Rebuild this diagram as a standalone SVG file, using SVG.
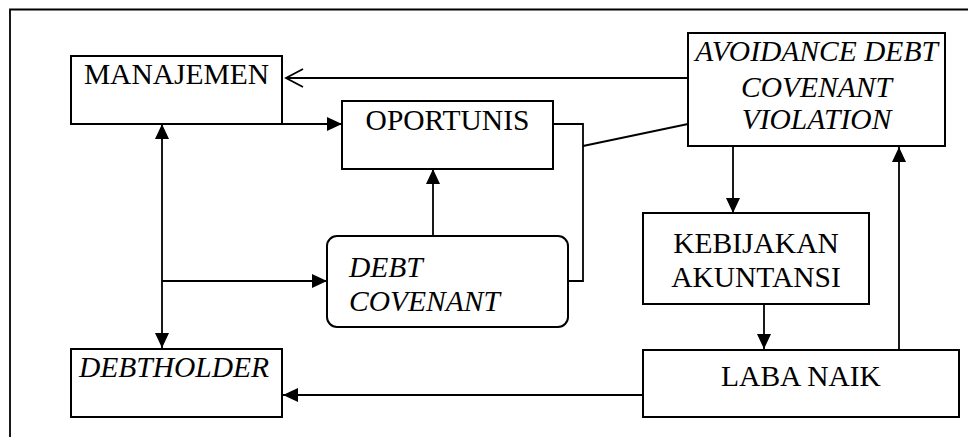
<svg xmlns="http://www.w3.org/2000/svg" width="968" height="437" viewBox="0 0 968 437">
  <style>
    .box { fill: #ffffff; stroke: #000000; stroke-width: 2; }
    .ln { fill: none; stroke: #000000; stroke-width: 1.8; }
    .t { font-family: 'Liberation Serif', 'Times New Roman', Times, serif; font-size: 29.5px; fill: #000000; }
    .i { font-style: italic; }
    .c { text-anchor: middle; }
  </style>
  <defs>
    <!-- filled arrowhead -->
    <marker id="solid" markerUnits="userSpaceOnUse" markerWidth="16" markerHeight="14" refX="15" refY="7" orient="auto">
      <path d="M0,0 L15,7 L0,14 Z" fill="#000000"/>
    </marker>
    <!-- open (chevron) arrowhead -->
    <marker id="open" markerUnits="userSpaceOnUse" markerWidth="20" markerHeight="22" refX="18" refY="10" orient="auto">
      <path d="M1,1 L18,10 L1,19" fill="none" stroke="#000000" stroke-width="1.8"/>
    </marker>
  </defs>

  <rect width="968" height="437" fill="#ffffff"/>

  <!-- outer frame: top and left edges -->
  <path class="ln" d="M10,437 L10,9.5 L968,9.5"/>

  <g id="connectors">
    <!-- AVOIDANCE -> MANAJEMEN -->
    <line class="ln" x1="688" y1="78" x2="286" y2="78" marker-end="url(#open)"/>
    <!-- MANAJEMEN -> OPORTUNIS -->
    <line class="ln" x1="282" y1="124" x2="342" y2="124" marker-end="url(#solid)"/>
    <!-- MANAJEMEN <-> DEBTHOLDER -->
    <line class="ln" x1="162" y1="140" x2="162" y2="124" marker-end="url(#solid)"/>
    <line class="ln" x1="162" y1="130" x2="162" y2="348" marker-end="url(#solid)"/>
    <!-- branch -> DEBT COVENANT -->
    <line class="ln" x1="162" y1="281" x2="327" y2="281" marker-end="url(#solid)"/>
    <!-- DEBT COVENANT -> OPORTUNIS -->
    <line class="ln" x1="433" y1="236" x2="433" y2="169" marker-end="url(#solid)"/>
    <!-- bracket joining OPORTUNIS and DEBT COVENANT, linked to AVOIDANCE -->
    <path class="ln" d="M553,124 L583,124 L583,281 L568,281"/>
    <line class="ln" x1="583" y1="146" x2="688" y2="124"/>
    <!-- AVOIDANCE -> KEBIJAKAN -->
    <line class="ln" x1="733" y1="146" x2="733" y2="213" marker-end="url(#solid)"/>
    <!-- KEBIJAKAN -> LABA NAIK -->
    <line class="ln" x1="764" y1="304" x2="764" y2="349" marker-end="url(#solid)"/>
    <!-- LABA NAIK -> AVOIDANCE -->
    <line class="ln" x1="899" y1="350" x2="899" y2="147" marker-end="url(#solid)"/>
    <!-- LABA NAIK -> DEBTHOLDER -->
    <line class="ln" x1="643" y1="395" x2="283" y2="395" marker-end="url(#solid)"/>
  </g>

  <g id="manajemen">
    <rect class="box" x="71" y="56" width="211" height="68"/>
    <text class="t c" x="176.5" y="84">MANAJEMEN</text>
  </g>

  <g id="oportunis">
    <rect class="box" x="342" y="101" width="211" height="68"/>
    <text class="t c" x="447.5" y="130">OPORTUNIS</text>
  </g>

  <g id="avoidance">
    <rect class="box" x="688" y="33" width="257" height="113"/>
    <text class="t i c" x="816.5" y="61">AVOIDANCE DEBT</text>
    <text class="t i c" x="816.5" y="97">COVENANT</text>
    <text class="t i c" x="816.5" y="129">VIOLATION</text>
  </g>

  <g id="debt-covenant">
    <rect class="box" x="327" y="236" width="241" height="91" rx="10" ry="10"/>
    <text class="t i" x="349" y="277">DEBT</text>
    <text class="t i" x="349" y="311">COVENANT</text>
  </g>

  <g id="kebijakan">
    <rect class="box" x="643" y="213" width="226" height="91"/>
    <text class="t c" x="756" y="253">KEBIJAKAN</text>
    <text class="t c" x="756" y="287">AKUNTANSI</text>
  </g>

  <g id="debtholder">
    <rect class="box" x="71" y="349" width="211" height="68"/>
    <text class="t i" x="79" y="377">DEBTHOLDER</text>
  </g>

  <g id="laba-naik">
    <rect class="box" x="643" y="350" width="316" height="67"/>
    <text class="t c" x="801" y="386">LABA NAIK</text>
  </g>
</svg>
